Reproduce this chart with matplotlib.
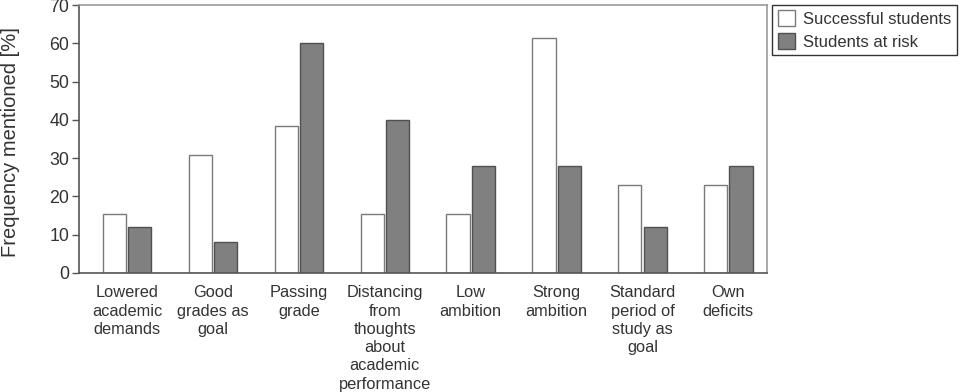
import matplotlib.pyplot as plt
import numpy as np

plt.rcParams['font.family'] = ['Liberation Sans', 'DejaVu Sans']
plt.rcParams['text.color'] = '#333333'
plt.rcParams['axes.labelcolor'] = '#333333'
plt.rcParams['xtick.color'] = '#333333'
plt.rcParams['ytick.color'] = '#333333'

# data
categories = ['Lowered\nacademic\ndemands', 'Good\ngrades as\ngoal', 'Passing\ngrade',
              'Distancing\nfrom\nthoughts\nabout\nacademic\nperformance',
              'Low\nambition', 'Strong\nambition',
              'Standard\nperiod of\nstudy as\ngoal', 'Own\ndeficits']
successful = [15.4, 30.8, 38.5, 15.4, 15.4, 61.5, 23.1, 23.1]
at_risk = [12, 8, 60, 40, 28, 28, 12, 28]
yticks = [0, 10, 20, 30, 40, 50, 60, 70]

x = np.arange(len(categories))
w = 0.27

fig = plt.figure(figsize=(9.63, 3.92), dpi=100)
ax = fig.add_axes([0.082, 0.3036, 0.7145, 0.6834])

ax.bar(x - w / 2 - 0.012, successful, w, color='white', edgecolor='#7a7a7a',
       linewidth=1.0, label='Successful students')
ax.bar(x + w / 2 + 0.012, at_risk, w, color='#808080', edgecolor='#505050',
       linewidth=1.0, label='Students at risk')

ax.set_xlim(-0.56, 7.45)
ax.set_ylim(0, 70)
ax.set_yticks(yticks)
ax.set_xticks(x)
ax.set_xticklabels(categories, fontsize=11.8, linespacing=1.27, va='top')
ax.tick_params(axis='x', length=0, pad=9)
ax.tick_params(axis='y', labelsize=12.8, length=5, width=1, color='#555555', pad=2)
for s in ax.spines.values():
    s.set_color('#9a9a9a')
    s.set_linewidth(1.2)
ax.spines['left'].set_color('#555555')
ax.spines['bottom'].set_color('#555555')

ax.set_ylabel('Frequency mentioned [%]', fontsize=14.5)
ax.yaxis.set_label_coords(-0.085, 0.49)

leg = ax.legend(loc='upper left', bbox_to_anchor=(1.0075, 1.002), fontsize=12,
                frameon=True, fancybox=False, edgecolor='black',
                handlelength=1.0, handleheight=1.1, borderpad=0.35,
                labelspacing=0.35, handletextpad=0.5, borderaxespad=0)
leg.get_frame().set_linewidth(1.0)
for t in leg.get_texts():
    t.set_color('#333333')

plt.savefig('out.png', dpi=100)
